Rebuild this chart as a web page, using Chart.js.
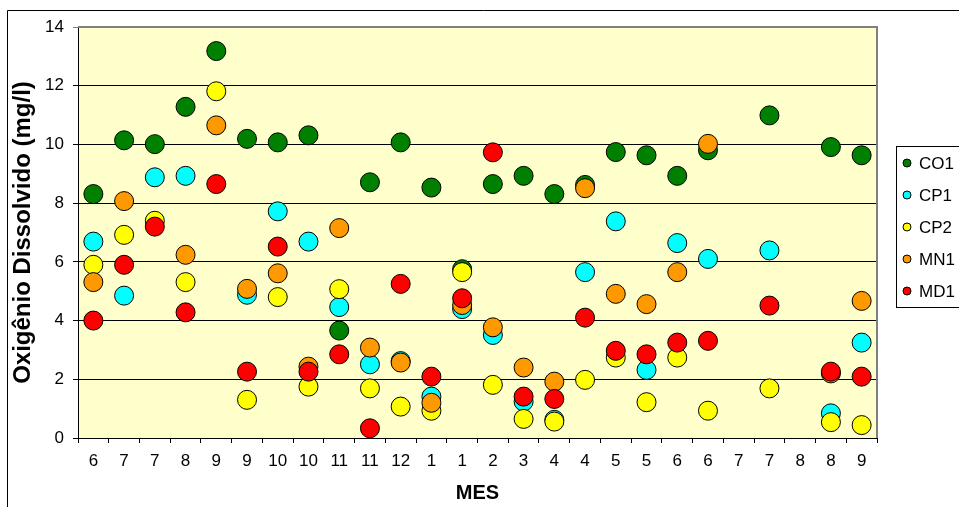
<!DOCTYPE html>
<html>
<head>
<meta charset="utf-8">
<script src="https://cdn.jsdelivr.net/npm/chart.js@4/dist/chart.umd.min.js"></script>
<style>
  html, body { margin: 0; padding: 0; background: #fff; }
  #wrap { width: 959px; height: 507px; }
</style>
</head>
<body>
<div id="wrap"><canvas id="my_chart" width="959" height="507"></canvas></div>
<script>
// month of each sample
var meses = ["6","7","7","8","9","9","10","10","11","11","12","1","1","2","3","4","4","5","5","6","6","7","7","8","8","9"];

var co1 = [8.31, 10.14, 10.01, 11.28, 13.18, 10.19, 10.07, 10.31, 3.66, 8.71, 10.07, 8.53, 5.75, 8.65, 8.93, 8.31, 8.62, 9.74, 9.63, 8.93, 9.80, null, 10.99, null, 9.91, 9.63];
var cp1 = [6.69, 4.85, 8.88, 8.93, null, 4.88, 7.72, 6.69, 4.46, 2.51, 2.62, 1.41, 4.39, 3.51, 1.24, 0.62, 5.65, 7.38, 2.32, 6.64, 6.10, null, 6.39, null, 0.84, 3.25];
var cp2 = [5.90, 6.92, 7.40, 5.31, 11.81, 1.30, 4.80, 1.75, 5.07, 1.69, 1.07, 0.93, 5.65, 1.81, 0.65, 0.56, 1.98, 2.74, 1.22, 2.74, 0.93, null, 1.69, null, 0.54, 0.44];
var mn1 = [5.31, 8.07, null, 6.24, 10.65, 5.08, 5.61, 2.43, 7.15, 3.08, 2.57, 1.20, 4.53, 3.77, 2.40, 1.92, 8.51, 4.91, 4.56, 5.65, 10.02, null, null, null, 2.20, 4.67];
var md1 = [4.00, 5.90, 7.20, 4.28, 8.65, 2.26, 6.52, 2.26, 2.85, 0.33, 5.25, 2.09, 4.76, 9.73, 1.41, 1.33, 4.10, 2.97, 2.85, 3.25, 3.31, null, 4.51, null, 2.26, 2.09];

var yTicks = [0, 2, 4, 6, 8, 10, 12, 14];

var series = [
    { label: "CO1", data: co1, color: "#008000" },
    { label: "CP1", data: cp1, color: "#00FFFF" },
    { label: "CP2", data: cp2, color: "#FFFF00" },
    { label: "MN1", data: mn1, color: "#FF9900" },
    { label: "MD1", data: md1, color: "#FF0000" }
];

var FONT = "'Liberation Sans', Arial, sans-serif";

// plot background, outer frame, plot border and legend
var decor = {
    id: "decor",
    beforeDraw: function (chart) {
        var c = chart.ctx, a = chart.chartArea;
        c.save();
        c.fillStyle = "#FFFFCC";
        c.fillRect(a.left, a.top, a.right - a.left, a.bottom - a.top);
        c.strokeStyle = "#000";
        c.lineWidth = 1;
        c.beginPath();
        c.moveTo(7.5, 507);
        c.lineTo(7.5, 10.5);
        c.lineTo(959, 10.5);
        c.stroke();
        c.restore();
    },
    afterDatasetsDraw: function (chart) {
        var c = chart.ctx, a = chart.chartArea;
        c.save();
        c.strokeStyle = "#808080";
        c.lineWidth = 2;
        c.beginPath();
        c.moveTo(a.left, a.top);
        c.lineTo(a.right, a.top);
        c.lineTo(a.right, a.bottom);
        c.stroke();
        c.restore();
    },
    afterDraw: function (chart) {
        var c = chart.ctx;
        c.save();
        c.fillStyle = "#fff";
        c.strokeStyle = "#000";
        c.lineWidth = 1;
        c.fillRect(896.5, 146.5, 70, 161);
        c.strokeRect(896.5, 146.5, 70, 161);
        c.font = "17px " + FONT;
        c.textBaseline = "middle";
        series.forEach(function (s, i) {
            var y = 163 + i * 32;
            c.beginPath();
            c.arc(907, y, 4, 0, Math.PI * 2);
            c.fillStyle = s.color;
            c.fill();
            c.stroke();
            c.fillStyle = "#000";
            c.fillText(s.label, 919, y + 1);
        });
        c.restore();
    }
};

var ctx = document.getElementById("my_chart").getContext("2d");

new Chart(ctx, {
    type: 'line',
    data: {
        labels: meses,
        datasets: series.map(function (s, i) {
            return {
                label: s.label,
                data: s.data,
                showLine: false,
                order: series.length - i,
                pointRadius: 9.5,
                pointHoverRadius: 9.5,
                pointBorderWidth: 1,
                pointBorderColor: "#000",
                pointBackgroundColor: s.color,
                backgroundColor: s.color,
                borderColor: "#000"
            };
        })
    },
    options: {
        responsive: false,
        animation: false,
        layout: { padding: { left: 8, top: 27, right: 82, bottom: 0 } },
        plugins: {
            legend: { display: false },
            tooltip: { enabled: false }
        },
        scales: {
            x: {
                type: 'category',
                offset: true,
                afterFit: function (s) { s.height = 69; },
                grid: {
                    offset: true,
                    drawOnChartArea: false,
                    drawTicks: true,
                    tickLength: 5,
                    color: "#000"
                },
                border: { color: "#000", width: 1 },
                ticks: {
                    color: "#000",
                    padding: 8,
                    maxRotation: 0,
                    autoSkip: false,
                    font: { family: FONT, size: 17 }
                },
                title: {
                    display: true,
                    text: "MES",
                    color: "#000",
                    padding: { top: 2, bottom: 2 },
                    font: { family: FONT, size: 20, weight: "bold" }
                }
            },
            y: {
                min: 0,
                max: 14,
                afterFit: function (s) { s.width = 70; },
                afterBuildTicks: function (s) {
                    s.ticks = yTicks.map(function (v) { return { value: v }; });
                },
                grid: {
                    tickLength: 5,
                    color: function (c) {
                        return c.tick && c.tick.value === 14 ? "#808080" : "#000";
                    }
                },
                border: { color: "#000", width: 1 },
                ticks: {
                    color: "#000",
                    padding: 9,
                    font: { family: FONT, size: 17 }
                },
                title: {
                    display: true,
                    text: "Oxigênio Dissolvido (mg/l)",
                    color: "#000",
                    padding: { top: 1, bottom: 2 },
                    font: { family: FONT, size: 24, weight: "bold" }
                }
            }
        }
    },
    plugins: [decor]
});
</script>
</body>
</html>
